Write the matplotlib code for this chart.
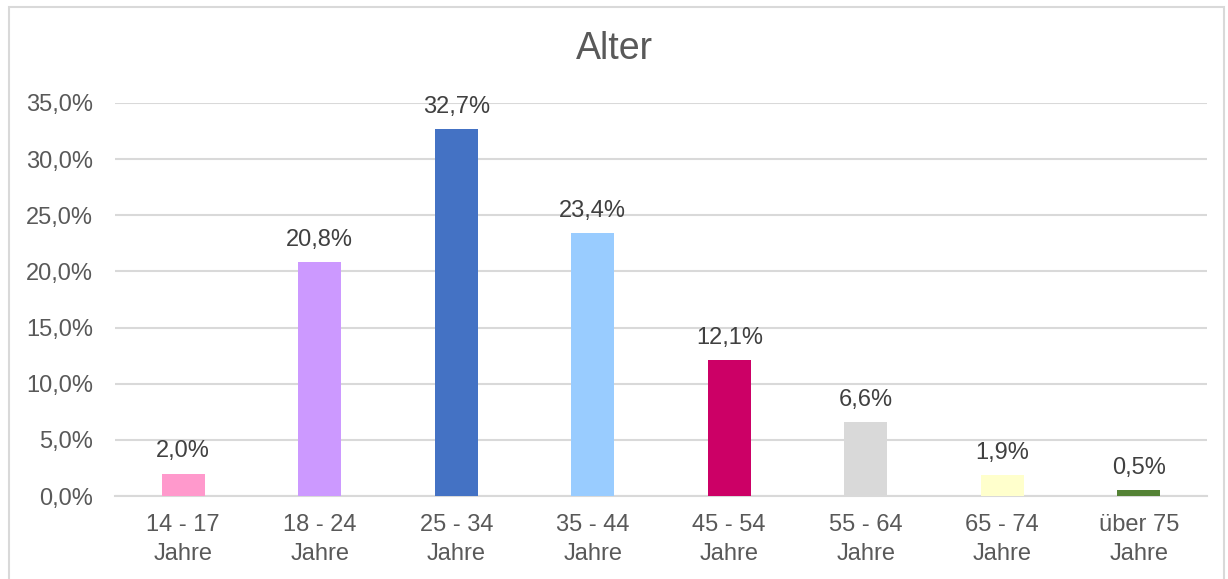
import matplotlib
matplotlib.use("Agg")
import matplotlib.pyplot as plt
from matplotlib.patches import Rectangle
from matplotlib.ticker import FuncFormatter

categories = ["14 - 17\nJahre", "18 - 24\nJahre", "25 - 34\nJahre", "35 - 44\nJahre",
              "45 - 54\nJahre", "55 - 64\nJahre", "65 - 74\nJahre", "über 75\nJahre"]
values = [2.0, 20.8, 32.7, 23.4, 12.1, 6.6, 1.9, 0.5]
colors = ["#FF99CC", "#CC99FF", "#4472C4", "#99CCFF", "#CC0066", "#D9D9D9", "#FFFFCC", "#548235"]
yticks = [0, 5, 10, 15, 20, 25, 30, 35]
title = "Alter"

plt.rcParams['font.family'] = ['Liberation Sans', 'DejaVu Sans']

W, H = 1228, 579
fig = plt.figure(figsize=(W / 100, H / 100), dpi=100)
fig.patch.set_facecolor("white")

# chart frame
fig.patches.append(Rectangle((9 / W, -0.05), (1224 - 9) / W, 1 - 7 / H + 0.05,
                             transform=fig.transFigure, fill=False,
                             edgecolor="#D9D9D9", linewidth=1.5))

left, right = 115 / W, 1207 / W
bottom, top = 1 - 496 / H, 1 - 103 / H
ax = fig.add_axes([left, bottom, right - left, top - bottom])

x = list(range(len(values)))
ax.bar(x, values, width=0.315, color=colors, zorder=3)
ax.set_xlim(-0.5, len(values) - 0.5)
ax.set_ylim(0, 35)
ax.set_yticks(yticks)
ax.yaxis.set_major_formatter(FuncFormatter(lambda v, p: f"{v:.1f}%".replace(".", ",")))
ax.set_xticks(x)
ax.set_xticklabels(categories, linespacing=1.4)

ax.grid(axis="y", color="#D9D9D9", linewidth=1.5, zorder=0)
ax.set_axisbelow(True)
for s in ["top", "right", "left"]:
    ax.spines[s].set_visible(False)
ax.spines["bottom"].set_color("#D9D9D9")
ax.spines["bottom"].set_linewidth(1.5)
ax.tick_params(axis="both", length=0, labelsize=17, colors="#595959")
ax.tick_params(axis="x", pad=13)
ax.tick_params(axis="y", pad=16)

for xi, v in zip(x, values):
    ax.annotate(f"{v:.1f}%".replace(".", ","), (xi, v), xytext=(0, 8),
                textcoords="offset points", ha="center", va="bottom",
                fontsize=17, color="#404040")

fig.text(0.5, 1 - 49 / H, title, ha="center", va="center", fontsize=27, color="#595959")

fig.savefig("out.png", dpi=100)
